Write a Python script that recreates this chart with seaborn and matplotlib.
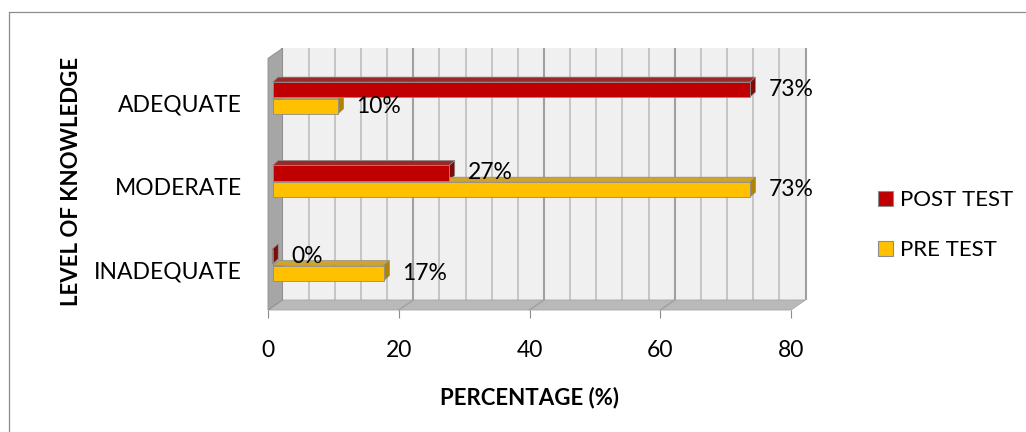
import numpy as np
import pandas as pd
import matplotlib
matplotlib.use("Agg")
import matplotlib.pyplot as plt
import seaborn as sns
from matplotlib.patches import Polygon, Patch
from matplotlib.lines import Line2D

# ---------------- data ----------------
levels = ["ADEQUATE", "MODERATE", "INADEQUATE"]
series = ["POST TEST", "PRE TEST"]
post_test = [73, 27, 0]
pre_test = [10, 73, 17]
x_ticks = [0, 20, 40, 60, 80]

colors = {"POST TEST": "#C00000", "PRE TEST": "#FFC000"}
top_colors = {"POST TEST": "#9A2A2A", "PRE TEST": "#CFA32C"}
side_colors = {"POST TEST": "#7E0A0A", "PRE TEST": "#B08400"}

df = pd.DataFrame({
    "level": levels * 2,
    "test": [series[0]] * len(levels) + [series[1]] * len(levels),
    "value": post_test + pre_test,
})
values_by_series = {series[0]: post_test, series[1]: pre_test}

sns.set_theme(style="white")
plt.rcParams["font.family"] = ["Lato", "DejaVu Sans"]
plt.rcParams["text.color"] = "black"
plt.rcParams["xtick.color"] = "black"
plt.rcParams["ytick.color"] = "black"
plt.rcParams["axes.labelcolor"] = "black"

W, H = 1026, 432
fig = plt.figure(figsize=(W / 100, H / 100), dpi=100)
fig.patch.set_facecolor("white")

# front plane of the plot box in pixels
L, R, T, B = 268, 791, 58.3, 310
ax = fig.add_axes([L / W, 1 - B / H, (R - L) / W, (B - T) / H])

sns.barplot(data=df, y="level", x="value", hue="test", order=levels,
            hue_order=series, palette=colors, saturation=1, orient="y",
            width=0.4, gap=0.1, legend=False, ax=ax, zorder=4,
            edgecolor="#8C8C8C", linewidth=0.6)

ax.set_xlim(0, 80)
ybot, ytop = 2.478, -0.54
ax.set_ylim(ybot, ytop)
ax.patch.set_visible(False)
for s in ax.spines.values():
    s.set_visible(False)

# pixel -> data conversions
p0 = ax.transData.transform((0, 0))
p1 = ax.transData.transform((1, 1))
sx = p1[0] - p0[0]
sy = p1[1] - p0[1]


def d(dx_px, dy_px):
    """image pixel offset (y down) -> data offset"""
    return dx_px / sx, -dy_px / sy


wx, wy = d(14.5, -10)   # depth of the back wall
bx, by = d(4.7, -5.4)   # bars sit inside the depth
fx, fy = d(5.5, -5)     # depth of each bar

xmax = x_ticks[-1]

# back wall
ax.add_patch(Polygon([(0 + wx, ybot + wy), (xmax + wx, ybot + wy),
                      (xmax + wx, ytop + wy), (0 + wx, ytop + wy)],
                     closed=True, facecolor="#F0F0F0", edgecolor="none",
                     zorder=0.5, clip_on=False))
for xv in range(0, xmax + 1, 4):
    major = xv % 20 == 0
    ax.plot([xv + wx, xv + wx], [ybot + wy, ytop + wy],
            color="#A0A0A0" if major else "#BEBEBE",
            lw=1.5 if major else 1.2, zorder=1, clip_on=False,
            solid_capstyle="butt")

# floor
ax.add_patch(Polygon([(0, ybot), (xmax, ybot), (xmax + wx, ybot + wy),
                      (0 + wx, ybot + wy)], closed=True,
                     facecolor="#B9B9B9", edgecolor="#A6A6A6", lw=0.6,
                     zorder=1.5, clip_on=False))
for xv in x_ticks[1:-1]:
    ax.plot([xv, xv + wx], [ybot, ybot + wy], color="#A0A0A0", lw=1.0,
            zorder=1.6, clip_on=False)

# left side wall
ax.add_patch(Polygon([(0, ybot), (0, ytop), (wx, ytop + wy), (wx, ybot + wy)],
                     closed=True, facecolor="#A6A6A6", edgecolor="#8C8C8C",
                     lw=0.6, zorder=2, clip_on=False))

# bars: shift into depth, add 3D faces and value labels
for cont, sname in zip(ax.containers, series):
    vals = values_by_series[sname]
    for bar, v in zip(cont, vals):
        bar.set_x(bar.get_x() + bx)
        bar.set_y(bar.get_y() + by)
        x0 = bar.get_x()
        x1 = x0 + bar.get_width()
        y0 = bar.get_y()
        h = bar.get_height()
        ax.add_patch(Polygon([(x0, y0), (x1, y0), (x1 + fx, y0 + fy),
                              (x0 + fx, y0 + fy)], closed=True,
                             facecolor=top_colors[sname], edgecolor="#8C8C8C",
                             lw=0.5, zorder=3, clip_on=False))
        ax.add_patch(Polygon([(x1, y0), (x1, y0 + h), (x1 + fx, y0 + h + fy),
                              (x1 + fx, y0 + fy)], closed=True,
                             facecolor=side_colors[sname], edgecolor="#8C8C8C",
                             lw=0.5, zorder=3, clip_on=False))
        ax.annotate(f"{v}%", xy=(x1, y0 + h / 2), xytext=(13.3, 0),
                    textcoords="offset points", ha="left", va="center",
                    fontsize=16.5, zorder=6, annotation_clip=False)

# ticks and labels
ax.set_xticks(x_ticks)
ax.set_xticklabels([str(t) for t in x_ticks])
ax.tick_params(axis="x", bottom=True, length=5.8, width=0.8,
               color="#8C8C8C", pad=16, labelsize=16.5)
ax.tick_params(axis="y", left=False, length=0, pad=19, labelsize=16.5)
ax.set_yticks(range(len(levels)))
ax.set_yticklabels(levels)

ax.set_xlabel("PERCENTAGE (%)", fontsize=16, fontweight="bold")
ax.xaxis.set_label_coords(0.5, (B - 398) / (B - T))
ax.xaxis.label.set_va("center")
ax.set_ylabel("LEVEL OF KNOWLEDGE", fontsize=16, fontweight="bold")
ax.yaxis.set_label_coords((72 - L) / (R - L), (B - 181) / (B - T))
ax.yaxis.label.set_va("center")

# legend
handles = [Patch(facecolor=colors[s], edgecolor="#8C8C8C", linewidth=0.8,
                 label=s) for s in series]
fig.legend(handles=handles, loc="center left",
           bbox_to_anchor=(878 / W, 1 - 225.3 / H), frameon=False,
           fontsize=16, handlelength=0.68, handleheight=0.68,
           handletextpad=0.33, labelspacing=1.35, borderpad=0,
           borderaxespad=0)

# chart-area border (left and top edges visible)
fig.add_artist(Line2D([9 / W, 9 / W], [0, 1 - 12 / H], transform=fig.transFigure,
                      color="#8C8C8C", lw=0.9))
fig.add_artist(Line2D([9 / W, 1], [1 - 12 / H, 1 - 12 / H],
                      transform=fig.transFigure, color="#8C8C8C", lw=0.9))

fig.savefig("out.png", dpi=100)
